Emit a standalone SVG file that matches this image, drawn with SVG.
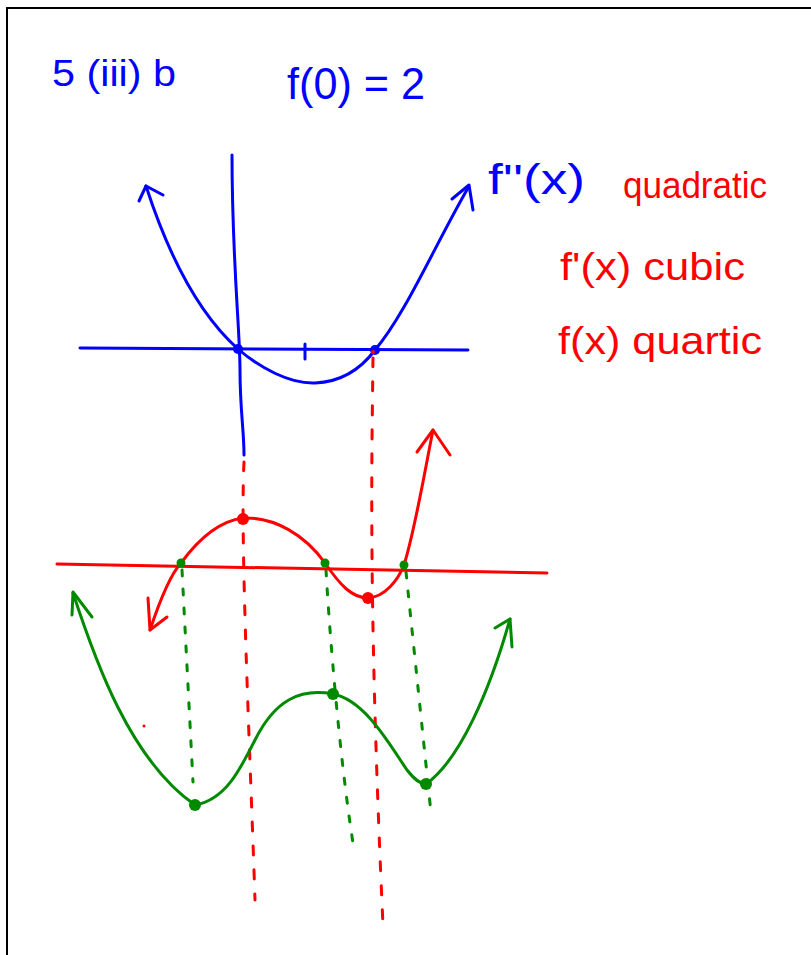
<svg xmlns="http://www.w3.org/2000/svg" width="811" height="955" viewBox="0 0 811 955">
<style>
.ln{fill:none;stroke-width:3;stroke-linecap:round;stroke-linejoin:round}
.b{stroke:#0000ff}.r{stroke:#ff0000}.g{stroke:#008a00}
.rd{stroke-dasharray:9 15}.gd{stroke-dasharray:6 13}
.t{font-family:"Liberation Sans","DejaVu Sans",sans-serif}
</style>
<rect x="7" y="8" width="830" height="970" fill="#fff" stroke="#000" stroke-width="2"/>
<g id="labels" class="t">
<text x="52" y="86" font-size="36" fill="#0000ff" textLength="124" lengthAdjust="spacingAndGlyphs">5 (iii) b</text>
<text x="287" y="99" font-size="44" fill="#0000ff" textLength="138" lengthAdjust="spacingAndGlyphs">f(0) = 2</text>
<text x="488" y="194" font-size="42" fill="#0000ff" textLength="97" lengthAdjust="spacingAndGlyphs">f''(x)</text>
<text x="623" y="198" font-size="36" fill="#ff0000" textLength="144" lengthAdjust="spacingAndGlyphs">quadratic</text>
<text x="560" y="280" font-size="38" fill="#ff0000" textLength="185" lengthAdjust="spacingAndGlyphs">f'(x) cubic</text>
<text x="558" y="354" font-size="38" fill="#ff0000" textLength="204" lengthAdjust="spacingAndGlyphs">f(x) quartic</text>
</g>
<g id="connectors">
<path class="ln r rd" d="M244,462 C240,540 250,750 255,900"/>
<path class="ln r rd" d="M373,358 C372,450 368,600 383,925"/>
<path class="ln g gd" d="M182,570 L193,782"/>
<path class="ln g gd" d="M326,570 C330,640 340,760 353,843"/>
<path class="ln g gd" d="M406,572 L431,813"/>
</g>
<g id="f2">
<path class="ln b" d="M80,348 L468,350"/>
<path class="ln b" d="M232,155 C232,260 240,330 240,370 C240,410 244,430 244,455"/>
<path class="ln b" d="M305,344 L305,359"/>
<path class="ln b" d="M146,186 C170,260 200,315 238,349 C260,368 290,384 315,383 C340,382 360,370 375,350 C405,315 435,245 468,188"/>
<path class="ln b" d="M139,201 L146,186 L163,195"/>
<path class="ln b" d="M452,199 L469,185 L473,210"/>
<circle cx="238" cy="349" r="5" fill="#0000ff"/>
<circle cx="375" cy="350" r="5" fill="#0000ff"/>
<circle cx="373" cy="352" r="2" fill="#ff0000"/>
</g>
<g id="f1">
<path class="ln r" d="M57,564 L547,573"/>
<path class="ln r" d="M150,630 C160,600 170,575 181,563 C200,537 220,521 243,518 C275,517 305,535 325,563 C340,585 352,598 368,598 C385,597 398,580 404,565 C415,530 425,470 433,430"/>
<path class="ln r" d="M148,598 L150,630 L167,617"/>
<path class="ln r" d="M417,452 L433,430 L450,455"/>
<circle cx="243" cy="519" r="6" fill="#ff0000"/>
<circle cx="368" cy="598" r="6" fill="#ff0000"/>
<circle cx="144" cy="726" r="1.5" fill="#ff0000"/>
</g>
<g id="f0">
<path class="ln g" d="M73,593 C95,660 130,760 195,805 C225,800 240,770 255,740 C275,700 300,688 333,694 C365,700 390,745 407,770 C415,780 420,784 426,784 C460,760 490,690 510,619"/>
<path class="ln g" d="M72,615 L73,592 L92,617"/>
<path class="ln g" d="M495,628 L510,619 L512,647"/>
<circle cx="181" cy="563" r="4.5" fill="#008a00"/>
<circle cx="325" cy="563" r="4.5" fill="#008a00"/>
<circle cx="404" cy="565" r="4.5" fill="#008a00"/>
<circle cx="195" cy="805" r="6" fill="#008a00"/>
<circle cx="333" cy="694" r="6" fill="#008a00"/>
<circle cx="426" cy="784" r="6" fill="#008a00"/>
</g>
</svg>
